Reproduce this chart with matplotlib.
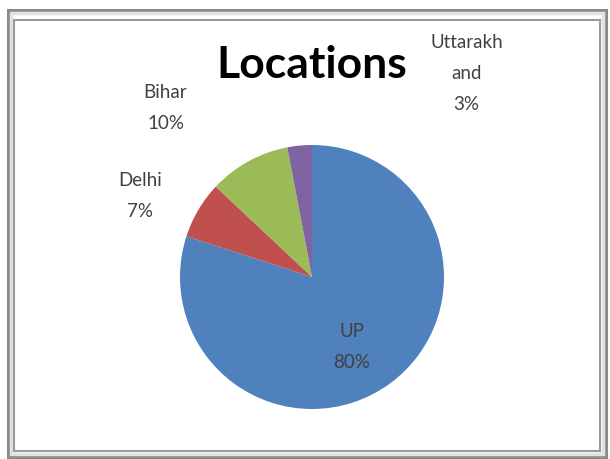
import matplotlib.pyplot as plt
from matplotlib.patches import Rectangle

labels = ["UP", "Delhi", "Bihar", "Uttarakh\nand"]
shares = [80, 7, 10, 3]
colors = ["#4f81bd", "#c0504d", "#9bbb59", "#8064a2"]

# where Excel put the data labels (pie radius = 1)
label_pos = [(0.30, -0.52), (-1.30, 0.62), (-1.11, 1.29), (1.17, 1.55)]

fig = plt.figure(figsize=(6.1, 4.6), dpi=100)
fig.patch.set_facecolor("white")

# chart frame
fig.patches.append(Rectangle((8 / 610, 1 - 458 / 460), 598 / 610, 447 / 460,
                             transform=fig.transFigure, fill=False,
                             edgecolor="#8a8a8a", linewidth=2.2))
fig.patches.append(Rectangle((11 / 610, 1 - 455 / 460), 592 / 610, 441 / 460,
                             transform=fig.transFigure, fill=False,
                             edgecolor="#e2e2e2", linewidth=2.5))
fig.patches.append(Rectangle((14 / 610, 1 - 452 / 460), 586 / 610, 431 / 460,
                             transform=fig.transFigure, fill=False,
                             edgecolor="#9a9a9a", linewidth=1.5))

ax = fig.add_axes([180 / 610, 50 / 460, 264 / 610, 264 / 460])
ax.pie(shares, colors=colors, startangle=90, counterclock=False, radius=1,
       wedgeprops=dict(linewidth=0))
ax.set_xlim(-1, 1)
ax.set_ylim(-1, 1)
ax.set_aspect("equal")
ax.axis("off")

for name, val, (x, y) in zip(labels, shares, label_pos):
    ax.text(x, y, f"{name}\n{val}%", ha="center", va="center",
            fontsize=13.5, family="Lato", color="#404040", linespacing=2.0)

fig.text(312 / 610, 1 - 65 / 460, "Locations", ha="center", va="center",
         fontsize=32, fontweight="bold", family="Lato", color="black")

fig.savefig("out.png", dpi=100)
